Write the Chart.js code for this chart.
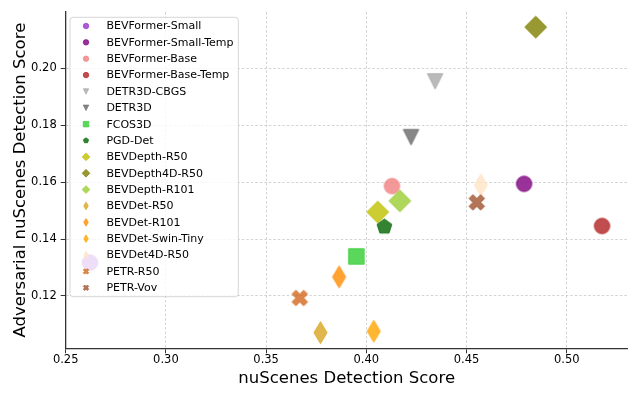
<!DOCTYPE html>
<html><head><meta charset="utf-8">
<script src="https://cdn.jsdelivr.net/npm/chart.js@4.4.0/dist/chart.umd.min.js"></script>
<style>html,body{margin:0;padding:0;background:#fff;}#wrap{width:640px;height:400px;position:relative;}</style>
</head><body><div id="wrap"><canvas id="c"></canvas></div>
<script>
const models = ['BEVFormer-Small','BEVFormer-Small-Temp','BEVFormer-Base','BEVFormer-Base-Temp','DETR3D-CBGS','DETR3D','FCOS3D','PGD-Det','BEVDepth-R50','BEVDepth4D-R50','BEVDepth-R101','BEVDet-R50','BEVDet-R101','BEVDet-Swin-Tiny','BEVDet4D-R50','PETR-R50','PETR-Vov'];
const ndsScores = [0.2621,0.4787,0.4128,0.5176,0.4343,0.4223,0.3950,0.4090,0.4057,0.4845,0.4167,0.3771,0.3864,0.4037,0.4571,0.3668,0.4551];
const advScores = [0.1317,0.1594,0.1586,0.1446,0.1954,0.1758,0.1339,0.1443,0.1495,0.2145,0.1534,0.1071,0.1267,0.1076,0.1590,0.1193,0.1529];
const colors = ['#9932CC','#800080','#F08080','#B22222','#A9A9A9','#696969','#32CD32','#006400','#BFBF00','#808000','#9ACD32','#DAA520','#FF8C00','#FFA500','#FFE4C4','#D2691E','#A0522D'];
const markers = ['circle','circle','circle','circle','triDown','triDown','square','pentagon','diamond','diamond','diamond','thinDiamond','thinDiamond','thinDiamond','thinDiamond','xFilled','xFilled'];
const xTicks = [0.25,0.30,0.35,0.40,0.45,0.50];
const yTicks = [0.12,0.14,0.16,0.18,0.20];

function rgba(hex, a){const n=parseInt(hex.slice(1),16);return `rgba(${n>>16&255},${n>>8&255},${n&255},${a})`;}
function pathShape(ctx, shape, cx, cy, m){
  const h=m/2; ctx.beginPath();
  if(shape==='circle'){ctx.arc(cx,cy,h,0,Math.PI*2);}
  else if(shape==='triDown'){ctx.moveTo(cx-h,cy-h);ctx.lineTo(cx+h,cy-h);ctx.lineTo(cx,cy+h);ctx.closePath();}
  else if(shape==='square'){ctx.rect(cx-h,cy-h,m,m);}
  else if(shape==='pentagon'){for(let k=0;k<5;k++){const a=-Math.PI/2+k*2*Math.PI/5;const px=cx+h*Math.cos(a),py=cy+h*Math.sin(a);k?ctx.lineTo(px,py):ctx.moveTo(px,py);}ctx.closePath();}
  else if(shape==='diamond'||shape==='thinDiamond'){const d=h*Math.SQRT2;const w=shape==='thinDiamond'?0.6*d:d;ctx.moveTo(cx,cy-d);ctx.lineTo(cx+w,cy);ctx.lineTo(cx,cy+d);ctx.lineTo(cx-w,cy);ctx.closePath();}
  else if(shape==='xFilled'){const u=m/4;const p=[[-1,-2],[0,-1],[1,-2],[2,-1],[1,0],[2,1],[1,2],[0,1],[-1,2],[-2,1],[-1,0],[-2,-1]];p.forEach((q,k)=>{const px=cx+q[0]*u,py=cy+q[1]*u;k?ctx.lineTo(px,py):ctx.moveTo(px,py);});ctx.closePath();}
}
function paintMarker(ctx, shape, cx, cy, m, hex, lw){
  pathShape(ctx,shape,cx,cy,m);
  ctx.fillStyle=rgba(hex,0.8);ctx.fill();
  ctx.lineWidth=lw;ctx.strokeStyle=rgba(hex,0.8);ctx.lineJoin='miter';ctx.stroke();
}
function markerImage(shape, hex, m){
  const S=Math.ceil(m*1.6+6);const c=document.createElement('canvas');c.width=S;c.height=S;
  const g=c.getContext('2d');paintMarker(g,shape,S/2,S/2,m,hex,1);return c;
}

const MS=15.5;
const datasets = models.map((name,i)=>({
  label:name,
  data:[{x:ndsScores[i],y:advScores[i]}],
  pointStyle:markerImage(markers[i],colors[i],MS),
  pointRadius:8,
  backgroundColor:rgba(colors[i],0.8),
  borderColor:rgba(colors[i],0.8),
  order: name==='PGD-Det' ? -8.5 : -i
}));

const innerLegend = {
  id:'innerLegend',
  afterDatasetsDraw(chart){
    const ctx=chart.ctx, a=chart.chartArea;
    const bx=a.left+4.3, by=a.top+5.3, bw=168.3, bh=279.4, r=3;
    ctx.save();
    ctx.beginPath();
    ctx.moveTo(bx+r,by);ctx.lineTo(bx+bw-r,by);ctx.arcTo(bx+bw,by,bx+bw,by+r,r);
    ctx.lineTo(bx+bw,by+bh-r);ctx.arcTo(bx+bw,by+bh,bx+bw-r,by+bh,r);
    ctx.lineTo(bx+r,by+bh);ctx.arcTo(bx,by+bh,bx,by+bh-r,r);
    ctx.lineTo(bx,by+r);ctx.arcTo(bx,by,bx+r,by,r);ctx.closePath();
    ctx.fillStyle='rgba(255,255,255,0.8)';ctx.fill();
    ctx.lineWidth=1;ctx.strokeStyle='rgba(204,204,204,0.8)';ctx.stroke();
    ctx.font='11px "DejaVu Sans"';ctx.textBaseline='middle';ctx.textAlign='left';
    chart.data.datasets.forEach((ds,i)=>{
      const y=by+8.7+i*16.36;
      paintMarker(ctx,markers[i],bx+16,y,5.5,colors[i],0.8);
      ctx.fillStyle='#000';ctx.fillText(ds.label,bx+36.4,y+0.5);
    });
    ctx.restore();
  }
};

Chart.defaults.font.family='"DejaVu Sans", sans-serif';
Chart.defaults.color='#000';
new Chart(document.getElementById('c'),{
  type:'scatter',
  data:{datasets},
  plugins:[innerLegend],
  options:{
    responsive:true,maintainAspectRatio:false,animation:false,
    layout:{padding:{top:12,right:12.3,bottom:0,left:0}},
    plugins:{legend:{display:false},tooltip:{enabled:false}},
    scales:{
      x:{type:'linear',min:0.25,max:0.5304,
        afterFit(s){s.height=51.7;},
        afterBuildTicks(s){s.ticks=xTicks.map(v=>({value:v}));},
        ticks:{callback:v=>v.toFixed(2),font:{size:11.5},color:'#000',padding:0,maxRotation:0,autoSkip:false},
        grid:{color:'#c8c8c8',lineWidth:0.8,tickLength:5,tickColor:'#333',tickWidth:1,tickBorderDash:[]},
        border:{display:true,color:'#333',width:1.3,dash:[2.5,2]},
        title:{display:true,text:'nuScenes Detection Score',font:{size:16.5},color:'#000',padding:{top:0,bottom:11}}
      },
      y:{type:'linear',min:0.1016,max:0.2198,
        afterFit(s){s.width=65.7;},
        afterBuildTicks(s){s.ticks=yTicks.map(v=>({value:v}));},
        ticks:{callback:v=>v.toFixed(2),font:{size:11.5},color:'#000',padding:4,autoSkip:false},
        grid:{color:'#c8c8c8',lineWidth:0.8,tickLength:5,tickColor:'#333',tickWidth:1,tickBorderDash:[]},
        border:{display:true,color:'#333',width:1.3,dash:[2.5,2]},
        title:{display:true,text:'Adversarial nuScenes Detection Score',font:{size:16.5},color:'#000',padding:{top:10.4,bottom:0}}
      }
    }
  }
});
</script></body></html>
